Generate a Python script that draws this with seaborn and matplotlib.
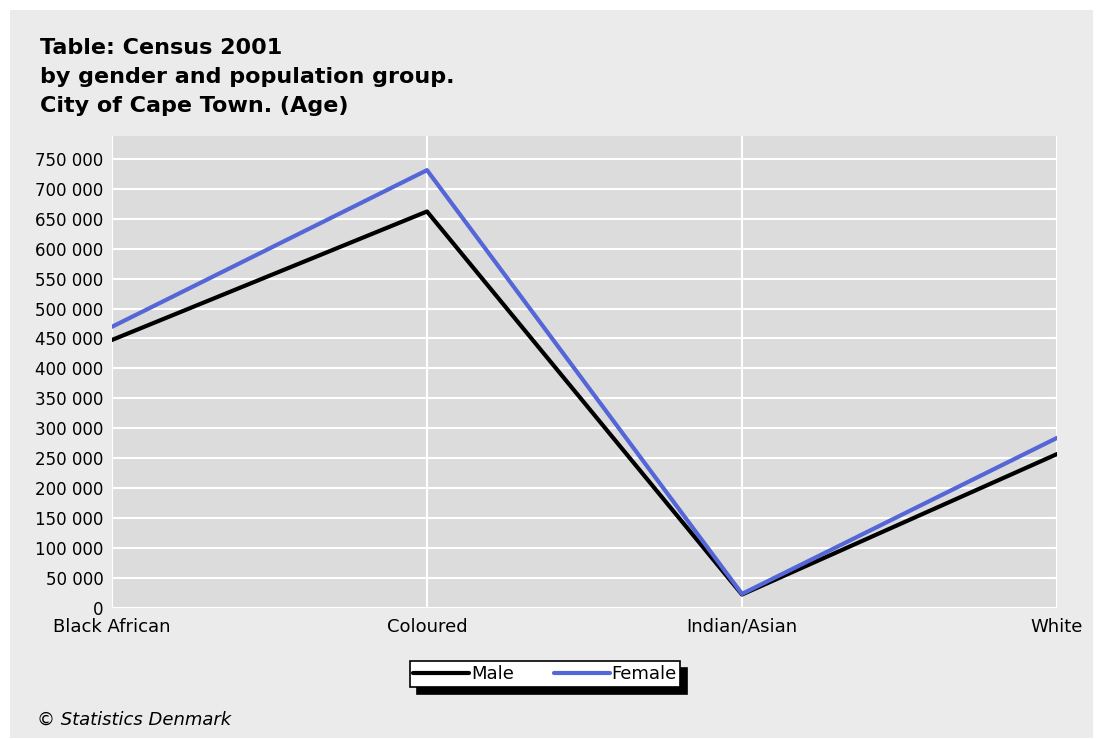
import matplotlib
matplotlib.use("Agg")
import matplotlib.pyplot as plt
import matplotlib.patches as mpatches
from matplotlib.ticker import FuncFormatter, MultipleLocator
import seaborn as sns
import pandas as pd

categories = ["Black African", "Coloured", "Indian/Asian", "White"]
male = [447500, 662000, 22500, 257000]
female = [469500, 731000, 23500, 284000]
series_names = ["Male", "Female"]
colors = {"Male": "#000000", "Female": "#5566d6"}

df = pd.DataFrame({
    "group": categories * 2,
    "x": list(range(len(categories))) * 2,
    "value": male + female,
    "gender": ["Male"] * 4 + ["Female"] * 4,
})

sns.set_style("white")
plt.rcParams["font.family"] = ["DejaVu Sans"]
plt.rcParams["text.color"] = "black"

fig = plt.figure(figsize=(11.03, 7.40), dpi=100)
fig.patch.set_facecolor("white")
fig.patches.append(mpatches.Rectangle((10 / 1103, 2 / 740), 1083 / 1103, 728 / 740,
                                      transform=fig.transFigure, facecolor="#ebebeb",
                                      edgecolor="none", zorder=-10))

ax = fig.add_axes([112 / 1103, 1 - 608 / 740, 945 / 1103, 472 / 740])
ax.set_zorder(1)
ax.set_facecolor("#dcdcdc")

sns.lineplot(data=df, x="x", y="value", hue="gender", hue_order=series_names,
             palette=colors, linewidth=3.0, ax=ax, legend=False, zorder=3)

ax.set_xlim(0, 3)
ax.set_ylim(0, 788000)
ax.yaxis.set_major_locator(MultipleLocator(50000))
ax.yaxis.set_major_formatter(FuncFormatter(lambda v, p: f"{int(v):,}".replace(",", " ")))
ax.set_xticks(range(len(categories)))
ax.set_xticklabels(categories)
ax.grid(True, color="white", linewidth=1.5, zorder=1)
ax.set_axisbelow(True)
for s in ax.spines.values():
    s.set_visible(False)
ax.tick_params(axis="y", length=0, labelsize=12, colors="black", pad=6)
ax.tick_params(axis="x", length=0, labelsize=13, colors="black", pad=7)
ax.set_xlabel("")
ax.set_ylabel("")

fig.text(40 / 1103, 1 - 38 / 740,
         "Table: Census 2001\nby gender and population group.\nCity of Cape Town. (Age)",
         fontsize=16, fontweight="bold", family="DejaVu Sans", va="top", ha="left",
         linespacing=1.55, color="black")

handles = [plt.Line2D([], [], color=colors[n], linewidth=3.0) for n in series_names]
leg = fig.legend(handles, series_names, loc="center", bbox_to_anchor=(545 / 1103, 1 - 674 / 740),
                 ncol=2, frameon=True, fancybox=False, edgecolor="black",
                 shadow={"color": "black", "alpha": 1, "ox": 5, "oy": -5},
                 fontsize=13, handlelength=3.1, handletextpad=0.1, columnspacing=2.2,
                 borderpad=0.2, borderaxespad=0)
leg.get_frame().set_linewidth(1.2)
for t in leg.get_texts():
    t.set_color("black")

fig.text(37 / 1103, 1 - 720 / 740, "© Statistics Denmark", fontsize=13, style="italic",
         va="center", ha="left", color="black")

fig.savefig("out.png", dpi=100)
